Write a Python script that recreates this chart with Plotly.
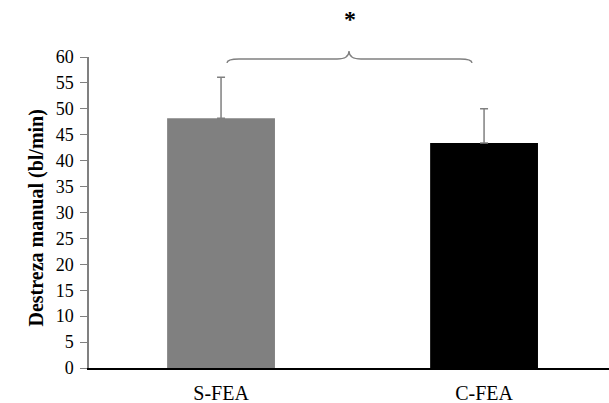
import plotly.graph_objects as go

categories = ["S-FEA", "C-FEA"]
means = [48.2, 43.4]
sd = [7.9, 6.6]
colors = ["#808080", "#000000"]
y_ticks = list(range(0, 61, 5))

L, R, T, B = 89, 0, 57, 35
W, H = 609, 403
pw, ph = W - L - R, H - T - B

def px(x):
    return (x - L) / pw

def py(y):
    return (H - B - y) / ph

fig = go.Figure()
fig.add_trace(go.Bar(
    x=categories, y=means, marker=dict(color=colors, line=dict(width=0)),
    width=0.41, hoverinfo="skip",
    error_y=dict(type="data", array=sd, symmetric=False, arrayminus=[0, 0],
                 color="#808080", thickness=1.5, width=4),
))

# bracket
x0, x1, xm = 227, 472, 349
yb, yp = 59, 51
path = (f"M {px(x0)},{py(yb+4)} Q {px(x0)},{py(yb)} {px(x0+12)},{py(yb)} "
        f"L {px(xm-12)},{py(yb)} Q {px(xm)},{py(yb)} {px(xm)},{py(yp)} "
        f"Q {px(xm)},{py(yb)} {px(xm+12)},{py(yb)} "
        f"L {px(x1-12)},{py(yb)} Q {px(x1)},{py(yb)} {px(x1)},{py(yb+4)}")
fig.add_shape(type="path", path=path, xref="paper", yref="paper",
              line=dict(color="#808080", width=1.3))
fig.add_annotation(text="<b>*</b>", x=px(350), y=py(4), yanchor="top",
                   xref="paper", yref="paper",
                   showarrow=False, font=dict(family="Liberation Serif", size=24, color="black"))
fig.add_annotation(text="<b>Destreza manual (bl/min)</b>", x=px(23), y=py(218),
                   xref="paper", yref="paper", textangle=-90, showarrow=False,
                   font=dict(family="Liberation Serif", size=20, color="black"))

fig.update_layout(
    width=W, height=H, margin=dict(l=L, r=R, t=T, b=B, pad=0),
    plot_bgcolor="white", paper_bgcolor="white", showlegend=False, hovermode=False,
    font=dict(family="Liberation Serif", size=18, color="black"),
    xaxis=dict(range=[-0.502, 1.475], showline=True, linecolor="black", linewidth=2,
               ticks="", showgrid=False, zeroline=False, tickfont=dict(size=20),
               ticklabelstandoff=6),
    yaxis=dict(range=[0, 60], tickvals=y_ticks, showline=True, linecolor="#808080",
               linewidth=1.5, ticks="outside", ticklen=7, tickcolor="#808080",
               showgrid=False, zeroline=False, tickfont=dict(size=18),
               ticklabelstandoff=3),
)
fig.write_html("out.html", post_script="document.body.style.margin='0px';",
               config={"displayModeBar": False})
